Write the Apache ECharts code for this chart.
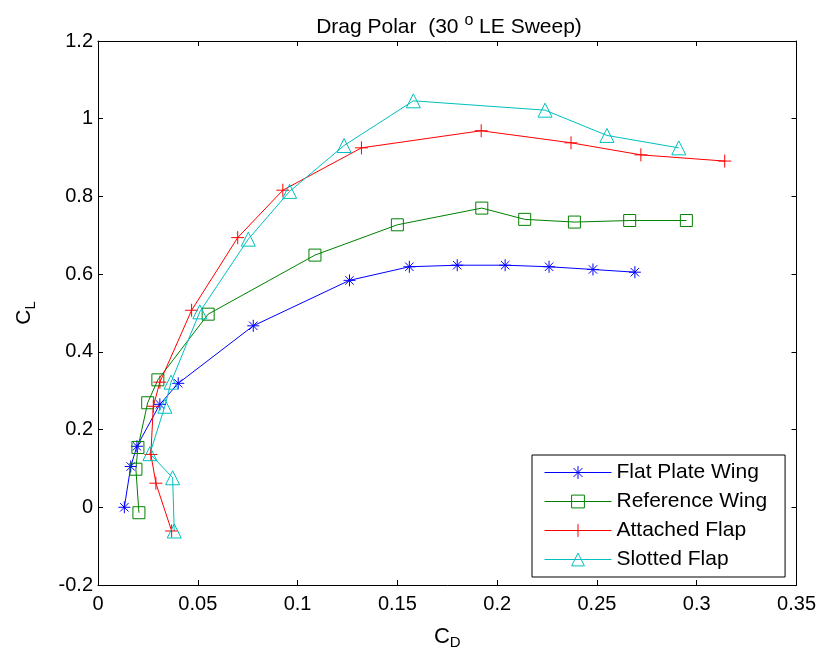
<!DOCTYPE html>
<html>
<head>
<meta charset="utf-8">
<script src="https://cdn.jsdelivr.net/npm/echarts@6/dist/echarts.min.js"></script>
<style>
  html, body { margin: 0; padding: 0; background: #fff; }
  #chart { width: 819px; height: 656px; }
</style>
</head>
<body>
<div id="chart"></div>
<script>
// Drag polar data: lift coefficient vs drag coefficient for four wing configurations
const seriesNames = ['Flat Plate Wing', 'Reference Wing', 'Attached Flap', 'Slotted Flap'];

const flatCD = [0.0132, 0.0164, 0.0195, 0.031, 0.0402, 0.0778, 0.126, 0.156, 0.180, 0.204, 0.226, 0.248, 0.269];
const flatCL = [0.0, 0.105, 0.157, 0.265, 0.319, 0.467, 0.584, 0.619, 0.623, 0.623, 0.619, 0.612, 0.605];

const refCD = [0.0205, 0.019, 0.020, 0.0249, 0.030, 0.0552, 0.1087, 0.150, 0.1923, 0.2138, 0.2387, 0.2664, 0.2948];
const refCL = [-0.014, 0.098, 0.154, 0.269, 0.328, 0.497, 0.649, 0.727, 0.770, 0.741, 0.734, 0.738, 0.738];

const attCD = [0.0369, 0.029, 0.0265, 0.0277, 0.031, 0.0469, 0.070, 0.0926, 0.132, 0.192, 0.237, 0.272, 0.314];
const attCL = [-0.061, 0.062, 0.136, 0.26, 0.322, 0.507, 0.694, 0.816, 0.925, 0.969, 0.938, 0.907, 0.891];

const slotCD = [0.0382, 0.0374, 0.026, 0.0335, 0.0366, 0.051, 0.0753, 0.096, 0.1233, 0.158, 0.224, 0.255, 0.291];
const slotCL = [-0.061, 0.076, 0.138, 0.26, 0.322, 0.503, 0.69, 0.813, 0.931, 1.046, 1.022, 0.957, 0.925];

const xTicks = [0, 0.05, 0.1, 0.15, 0.2, 0.25, 0.3, 0.35];
const yTicks = [-0.2, 0, 0.2, 0.4, 0.6, 0.8, 1, 1.2];

const pairs = (xs, ys) => xs.map((x, i) => [x, ys[i]]);

const FONT = '"Liberation Sans", Arial, sans-serif';
const colors = ['#0000ff', '#008000', '#ff0000', '#00bfbf'];

// stroke-only marker shapes
const asterisk = 'path://M0,-10L0,10M-10,0L10,0M-7,-7L7,7M-7,7L7,-7';
const plus = 'path://M0,-10L0,10M-10,0L10,0';
const square = 'path://M-10,-10L10,-10L10,10L-10,10Z';
const triangle = 'path://M0,-10L10,8L-10,8Z';

const symbols = [asterisk, square, plus, triangle];
const sizes = [12, 12, 13, 14];
const data = [pairs(flatCD, flatCL), pairs(refCD, refCL), pairs(attCD, attCL), pairs(slotCD, slotCL)];

const tickText = (ticks) => v => {
  const t = ticks.find(k => Math.abs(k - v) < 1e-9);
  return t === undefined ? '' : String(t);
};

const axisCommon = {
  type: 'value',
  splitLine: { show: false },
  axisLine: { show: true, onZero: false, lineStyle: { color: '#000', width: 1 } },
  axisTick: { show: true, inside: true, length: 5, lineStyle: { color: '#000' } }
};

const option = {
  backgroundColor: '#fff',
  animation: false,
  title: {
    text: 'Drag Polar  (30 {sup|o} LE Sweep)',
    left: 444,
    textAlign: 'center',
    top: 8,
    textStyle: {
      fontFamily: FONT, fontSize: 21, fontWeight: 'normal', color: '#000',
      rich: { sup: { fontFamily: FONT, fontSize: 16, color: '#000', padding: [0, 0, 12, 0] } }
    }
  },
  grid: { left: 98, right: 22, top: 41, bottom: 71 },
  legend: {
    orient: 'vertical',
    left: 532,
    top: 455,
    padding: [7, 18, 7, 12],
    itemGap: 8,
    itemWidth: 67,
    itemHeight: 16,
    backgroundColor: '#fff',
    borderColor: '#000',
    borderWidth: 1,
    borderRadius: 0,
    lineStyle: { width: 1 },
    itemStyle: { borderWidth: 1 },
    textStyle: { fontFamily: FONT, fontSize: 21, color: '#000', lineHeight: 21 },
    data: seriesNames
  },
  xAxis: [
    Object.assign({}, axisCommon, {
      min: 0, max: 0.35, interval: 0.05, position: 'bottom',
      name: '{c|C}{s|D}', nameLocation: 'middle', nameGap: 38,
      nameTextStyle: {
        rich: {
          c: { fontFamily: FONT, fontSize: 22, color: '#000' },
          s: { fontFamily: FONT, fontSize: 15, color: '#000', padding: [12, 0, 0, 0] }
        }
      },
      axisLabel: { fontFamily: FONT, fontSize: 20, color: '#000', margin: 9, formatter: tickText(xTicks) }
    }),
    Object.assign({}, axisCommon, {
      min: 0, max: 0.35, interval: 0.05, position: 'top', axisLabel: { show: false }
    })
  ],
  yAxis: [
    Object.assign({}, axisCommon, {
      min: -0.2, max: 1.2, interval: 0.2, position: 'left',
      name: '{c|C}{s|L}', nameLocation: 'middle', nameGap: 60, nameRotate: 90,
      nameTextStyle: {
        rich: {
          c: { fontFamily: FONT, fontSize: 21, color: '#000' },
          s: { fontFamily: FONT, fontSize: 15, color: '#000', padding: [12, 0, 0, 0] }
        }
      },
      axisLabel: { fontFamily: FONT, fontSize: 20, color: '#000', margin: 5, formatter: tickText(yTicks) }
    }),
    Object.assign({}, axisCommon, {
      min: -0.2, max: 1.2, interval: 0.2, position: 'right', axisLabel: { show: false }
    })
  ],
  series: seriesNames.map((name, i) => ({
    name: name,
    type: 'line',
    xAxisIndex: 0,
    yAxisIndex: 0,
    data: data[i],
    symbol: symbols[i],
    symbolSize: sizes[i],
    showAllSymbol: true,
    color: colors[i],
    lineStyle: { color: colors[i], width: 1 },
    itemStyle: { color: 'rgba(0,0,0,0)', borderColor: colors[i], borderWidth: 1 },
    emphasis: { disabled: true }
  }))
};

const chart = echarts.init(document.getElementById('chart'), null, { renderer: 'canvas' });
chart.setOption(option);
</script>
</body>
</html>
